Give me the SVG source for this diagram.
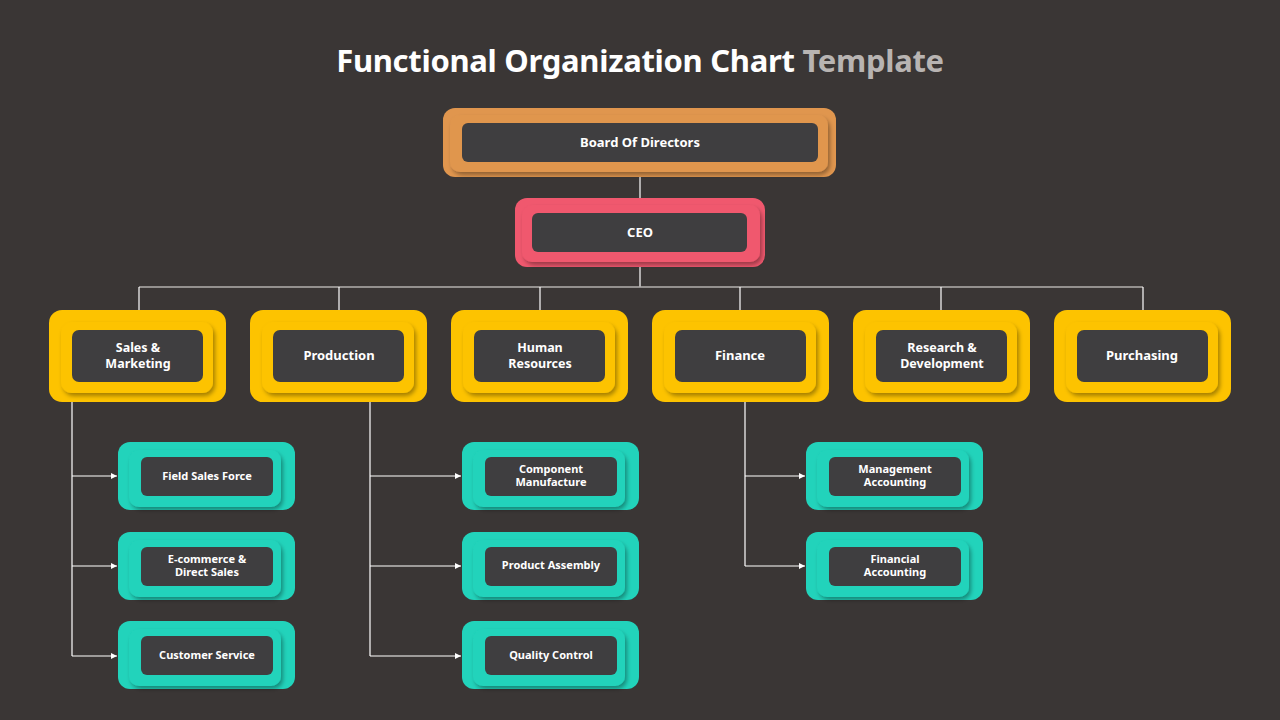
<svg xmlns="http://www.w3.org/2000/svg" width="1280" height="720" viewBox="0 0 1280 720">
<defs>
<filter id="sh" x="-20%" y="-20%" width="140%" height="150%">
<feDropShadow dx="2" dy="3" stdDeviation="2" flood-color="#000" flood-opacity="0.35"/>
</filter>
<marker id="arr" markerWidth="8" markerHeight="8" refX="6" refY="3" orient="auto" markerUnits="userSpaceOnUse">
<path d="M0,0 L6,3 L0,6 Z" fill="#ffffff"/>
</marker>
<style>
.t{font-family:"Noto Sans","Open Sans",sans-serif;font-weight:700;fill:#ffffff;text-anchor:middle}
.n{font-size:13px}
.m{font-size:12.5px}
.s{font-size:11px}
.dark{fill:#3f3e40}
.or{fill:#E0964E}
.pk{fill:#F0586E}
.yl{fill:#FDC300}
.tl{fill:#22D3BB}
.ln{stroke:#ffffff;stroke-width:1.2;fill:none}
.hl{stroke:#b3b0ae;stroke-width:1.5;fill:none}
</style>
</defs>
<rect width="1280" height="720" fill="#3a3635"/>
<text x="640" y="72" font-family="'Noto Sans','Open Sans',sans-serif" font-weight="700" font-size="31" text-anchor="middle" letter-spacing="-0.3"><tspan fill="#ffffff">Functional Organization Chart </tspan><tspan fill="#b8b4b2">Template</tspan></text>

<g id="connectors">
<line class="ln" x1="640" y1="177" x2="640" y2="198"/>
<line class="ln" x1="640" y1="267" x2="640" y2="287"/>
<line class="hl" x1="139" y1="287" x2="1143" y2="287"/>
<line class="ln" x1="139" y1="287" x2="139" y2="310"/>
<line class="ln" x1="339" y1="287" x2="339" y2="310"/>
<line class="ln" x1="540" y1="287" x2="540" y2="310"/>
<line class="ln" x1="740" y1="287" x2="740" y2="310"/>
<line class="ln" x1="941" y1="287" x2="941" y2="310"/>
<line class="ln" x1="1143" y1="287" x2="1143" y2="310"/>
<line class="ln" x1="72" y1="402" x2="72" y2="656"/>
<line class="ln" x1="72" y1="476" x2="117" y2="476" marker-end="url(#arr)"/>
<line class="ln" x1="72" y1="566" x2="117" y2="566" marker-end="url(#arr)"/>
<line class="ln" x1="72" y1="656" x2="117" y2="656" marker-end="url(#arr)"/>
<line class="ln" x1="370" y1="402" x2="370" y2="656"/>
<line class="ln" x1="370" y1="476" x2="461" y2="476" marker-end="url(#arr)"/>
<line class="ln" x1="370" y1="566" x2="461" y2="566" marker-end="url(#arr)"/>
<line class="ln" x1="370" y1="656" x2="461" y2="656" marker-end="url(#arr)"/>
<line class="ln" x1="745" y1="402" x2="745" y2="566"/>
<line class="ln" x1="745" y1="476" x2="805" y2="476" marker-end="url(#arr)"/>
<line class="ln" x1="745" y1="566" x2="805" y2="566" marker-end="url(#arr)"/>
</g>

<g id="board" transform="translate(443,108)">
<rect class="or" width="393" height="69" rx="12"/>
<rect class="or" x="7" y="7" width="378" height="57" rx="10" filter="url(#sh)"/>
<rect class="dark" x="19" y="15" width="356" height="39" rx="6"/>
<text class="t n" x="197" y="39">Board Of Directors</text>
</g>

<g id="ceo" transform="translate(515,198)">
<rect class="pk" width="250" height="69" rx="12"/>
<rect class="pk" x="7" y="7" width="238" height="57" rx="10" filter="url(#sh)"/>
<rect class="dark" x="17" y="15" width="215" height="39" rx="6"/>
<text class="t n" x="125" y="39">CEO</text>
</g>

<g id="sales" transform="translate(49,310)">
<rect class="yl" width="177" height="92" rx="13"/>
<rect class="yl" x="12" y="12" width="152" height="71" rx="11" filter="url(#sh)"/>
<rect class="dark" x="23" y="20" width="131" height="52" rx="7"/>
<text class="t m"><tspan x="89" y="41.5">Sales &amp;</tspan><tspan x="89" y="57.5">Marketing</tspan></text>
</g>

<g id="production" transform="translate(250,310)">
<rect class="yl" width="177" height="92" rx="13"/>
<rect class="yl" x="12" y="12" width="152" height="71" rx="11" filter="url(#sh)"/>
<rect class="dark" x="23" y="20" width="131" height="52" rx="7"/>
<text class="t n" x="89" y="50">Production</text>
</g>

<g id="hr" transform="translate(451,310)">
<rect class="yl" width="177" height="92" rx="13"/>
<rect class="yl" x="12" y="12" width="152" height="71" rx="11" filter="url(#sh)"/>
<rect class="dark" x="23" y="20" width="131" height="52" rx="7"/>
<text class="t m"><tspan x="89" y="41.5">Human</tspan><tspan x="89" y="57.5">Resources</tspan></text>
</g>

<g id="finance" transform="translate(652,310)">
<rect class="yl" width="177" height="92" rx="13"/>
<rect class="yl" x="12" y="12" width="152" height="71" rx="11" filter="url(#sh)"/>
<rect class="dark" x="23" y="20" width="131" height="52" rx="7"/>
<text class="t n" x="88" y="50">Finance</text>
</g>

<g id="rnd" transform="translate(853,310)">
<rect class="yl" width="177" height="92" rx="13"/>
<rect class="yl" x="12" y="12" width="152" height="71" rx="11" filter="url(#sh)"/>
<rect class="dark" x="23" y="20" width="131" height="52" rx="7"/>
<text class="t m"><tspan x="89" y="41.5">Research &amp;</tspan><tspan x="89" y="57.5">Development</tspan></text>
</g>

<g id="purchasing" transform="translate(1054,310)">
<rect class="yl" width="177" height="92" rx="13"/>
<rect class="yl" x="12" y="12" width="152" height="71" rx="11" filter="url(#sh)"/>
<rect class="dark" x="23" y="20" width="131" height="52" rx="7"/>
<text class="t n" x="88" y="50">Purchasing</text>
</g>

<g id="field-sales" transform="translate(118,442)">
<rect class="tl" width="177" height="68" rx="12"/>
<rect class="tl" x="11" y="8" width="152" height="57" rx="10" filter="url(#sh)"/>
<rect class="dark" x="23" y="15" width="132" height="39" rx="6"/>
<text class="t s" x="89" y="38">Field Sales Force</text>
</g>

<g id="ecommerce" transform="translate(118,532)">
<rect class="tl" width="177" height="68" rx="12"/>
<rect class="tl" x="11" y="8" width="152" height="57" rx="10" filter="url(#sh)"/>
<rect class="dark" x="23" y="15" width="132" height="39" rx="6"/>
<text class="t s"><tspan x="89" y="31">E-commerce &amp;</tspan><tspan x="89" y="44">Direct Sales</tspan></text>
</g>

<g id="customer-service" transform="translate(118,621)">
<rect class="tl" width="177" height="68" rx="12"/>
<rect class="tl" x="11" y="8" width="152" height="57" rx="10" filter="url(#sh)"/>
<rect class="dark" x="23" y="15" width="132" height="39" rx="6"/>
<text class="t s" x="89" y="38">Customer Service</text>
</g>

<g id="component" transform="translate(462,442)">
<rect class="tl" width="177" height="68" rx="12"/>
<rect class="tl" x="11" y="8" width="152" height="57" rx="10" filter="url(#sh)"/>
<rect class="dark" x="23" y="15" width="132" height="39" rx="6"/>
<text class="t s"><tspan x="89" y="31">Component</tspan><tspan x="89" y="44">Manufacture</tspan></text>
</g>

<g id="assembly" transform="translate(462,532)">
<rect class="tl" width="177" height="68" rx="12"/>
<rect class="tl" x="11" y="8" width="152" height="57" rx="10" filter="url(#sh)"/>
<rect class="dark" x="23" y="15" width="132" height="39" rx="6"/>
<text class="t s" x="89" y="37">Product Assembly</text>
</g>

<g id="quality" transform="translate(462,621)">
<rect class="tl" width="177" height="68" rx="12"/>
<rect class="tl" x="11" y="8" width="152" height="57" rx="10" filter="url(#sh)"/>
<rect class="dark" x="23" y="15" width="132" height="39" rx="6"/>
<text class="t s" x="89" y="38">Quality Control</text>
</g>

<g id="mgmt-accounting" transform="translate(806,442)">
<rect class="tl" width="177" height="68" rx="12"/>
<rect class="tl" x="11" y="8" width="152" height="57" rx="10" filter="url(#sh)"/>
<rect class="dark" x="23" y="15" width="132" height="39" rx="6"/>
<text class="t s"><tspan x="89" y="31">Management</tspan><tspan x="89" y="44">Accounting</tspan></text>
</g>

<g id="fin-accounting" transform="translate(806,532)">
<rect class="tl" width="177" height="68" rx="12"/>
<rect class="tl" x="11" y="8" width="152" height="57" rx="10" filter="url(#sh)"/>
<rect class="dark" x="23" y="15" width="132" height="39" rx="6"/>
<text class="t s"><tspan x="89" y="31">Financial</tspan><tspan x="89" y="44">Accounting</tspan></text>
</g>
</svg>
